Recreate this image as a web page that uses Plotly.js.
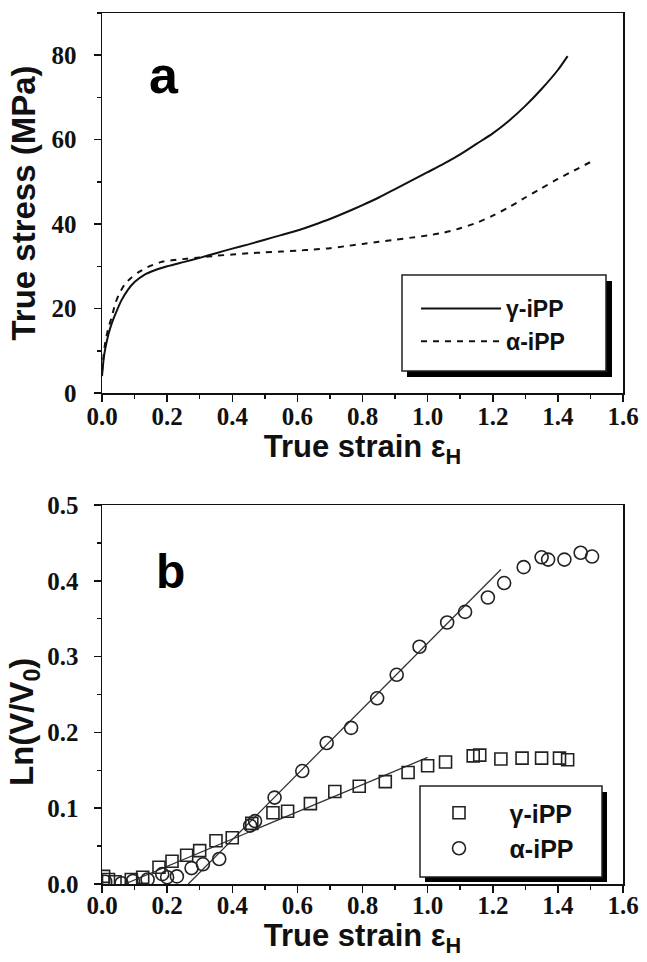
<!DOCTYPE html>
<html>
<head>
<meta charset="utf-8">
<script src="https://cdn.plot.ly/plotly-3.0.1.min.js"></script>
<style>html,body{margin:0;padding:0;background:#fff;}#chart{width:647px;height:962px;}</style>
</head>
<body>
<div id="chart"></div>
<script>
// ---------- Panel (a): true stress vs true strain ----------
const strainGammaA = [0, 0.005, 0.01, 0.02, 0.03, 0.04, 0.06, 0.08, 0.1, 0.13, 0.16, 0.2, 0.25, 0.3, 0.35, 0.4, 0.45, 0.5, 0.55, 0.6, 0.65, 0.7, 0.75, 0.8, 0.85, 0.9, 0.95, 1.0, 1.05, 1.1, 1.15, 1.2, 1.25, 1.3, 1.35, 1.4, 1.43];
const stressGamma  = [4, 8, 10.5, 14, 16.5, 18.5, 22, 24.5, 26.3, 28, 29, 30, 31, 32, 33.1, 34.2, 35.2, 36.3, 37.4, 38.5, 39.8, 41.2, 42.8, 44.5, 46.3, 48.3, 50.3, 52.3, 54.3, 56.5, 59, 61.5, 64.5, 68, 72, 76.5, 79.8];
const strainAlphaA = [0, 0.005, 0.01, 0.02, 0.03, 0.04, 0.05, 0.07, 0.09, 0.11, 0.14, 0.18, 0.22, 0.26, 0.3, 0.35, 0.4, 0.45, 0.5, 0.55, 0.6, 0.65, 0.7, 0.75, 0.8, 0.85, 0.9, 0.95, 1.0, 1.05, 1.1, 1.15, 1.2, 1.25, 1.3, 1.35, 1.4, 1.45, 1.5];
const stressAlpha  = [5, 9, 12, 15.5, 18, 21, 23, 25.8, 27.3, 28.5, 29.8, 31, 31.5, 31.8, 32.1, 32.5, 32.8, 33.1, 33.3, 33.5, 33.7, 34, 34.3, 34.8, 35.3, 35.8, 36.3, 36.8, 37.3, 38, 39, 40.3, 42, 44, 46.3, 48.5, 50.7, 52.7, 54.7];

// ---------- Panel (b): Ln(V/V0) vs true strain ----------
const strainGammaB = [0.005, 0.02, 0.04, 0.09, 0.125, 0.175, 0.215, 0.26, 0.30, 0.35, 0.40, 0.46, 0.525, 0.57, 0.64, 0.715, 0.79, 0.87, 0.94, 1.0, 1.055, 1.14, 1.16, 1.225, 1.29, 1.35, 1.405, 1.43];
const lnVGamma     = [0.010, 0.006, 0.003, 0.006, 0.009, 0.022, 0.030, 0.038, 0.044, 0.057, 0.061, 0.080, 0.094, 0.096, 0.106, 0.122, 0.129, 0.135, 0.147, 0.156, 0.161, 0.169, 0.170, 0.165, 0.166, 0.166, 0.166, 0.164];
const strainAlphaB = [0.01, 0.06, 0.095, 0.14, 0.185, 0.2, 0.23, 0.275, 0.31, 0.36, 0.455, 0.47, 0.53, 0.615, 0.69, 0.765, 0.845, 0.905, 0.975, 1.06, 1.115, 1.185, 1.235, 1.295, 1.35, 1.37, 1.42, 1.47, 1.505];
const lnVAlpha     = [0.003, 0.001, 0.004, 0.006, 0.013, 0.009, 0.010, 0.021, 0.026, 0.033, 0.077, 0.083, 0.114, 0.149, 0.186, 0.206, 0.245, 0.276, 0.313, 0.345, 0.359, 0.378, 0.397, 0.418, 0.431, 0.428, 0.428, 0.437, 0.432];
// linear fit lines (end points)
const fitGammaX = [0.07, 1.0];
const fitGammaY = [0.0, 0.167];
const fitAlphaX = [0.265, 1.225];
const fitAlphaY = [0.0, 0.415];

const seriesNames = ['γ-iPP', 'α-iPP'];
const xTickVals = [0, 0.2, 0.4, 0.6, 0.8, 1.0, 1.2, 1.4, 1.6];

// ---------- layout helpers (pixel -> paper) ----------
const W = 647, H = 962;
const M = {l: 102, r: 24, t: 13, b: 78};
const PW = W - M.l - M.r, PH = H - M.t - M.b;
const px = v => (v - M.l) / PW;
const py = v => (H - M.b - v) / PH;

const sans = 'Liberation Sans, Arial, sans-serif';
const serif = 'Liberation Serif, Times New Roman, serif';
const tickFont = {family: serif, size: 25, color: '#111', weight: 'bold'};
const titleFont = {family: sans, size: 31, color: '#111', weight: 'bold'};

const axisCommon = {
  showline: true, linecolor: '#111', linewidth: 1.5, mirror: true,
  showgrid: false, zeroline: false,
  ticks: 'outside', ticklen: 7, tickwidth: 1.5, tickcolor: '#111',
  tickfont: tickFont
};

const traces = [
  {x: strainGammaA, y: stressGamma, name: seriesNames[0], type: 'scatter', mode: 'lines',
   line: {color: '#111', width: 2, shape: 'spline', smoothing: 0.6}, xaxis: 'x', yaxis: 'y', legend: 'legend'},
  {x: strainAlphaA, y: stressAlpha, name: seriesNames[1], type: 'scatter', mode: 'lines',
   line: {color: '#111', width: 2, dash: '6px,6px', shape: 'spline', smoothing: 0.6}, xaxis: 'x', yaxis: 'y', legend: 'legend'},
  {x: fitGammaX, y: fitGammaY, type: 'scatter', mode: 'lines', showlegend: false,
   line: {color: '#333', width: 1.3}, xaxis: 'x2', yaxis: 'y2'},
  {x: fitAlphaX, y: fitAlphaY, type: 'scatter', mode: 'lines', showlegend: false,
   line: {color: '#333', width: 1.3}, xaxis: 'x2', yaxis: 'y2'},
  {x: strainGammaB, y: lnVGamma, name: seriesNames[0], type: 'scatter', mode: 'markers',
   marker: {symbol: 'square-open', size: 12, color: '#222', line: {width: 1.6, color: '#222'}},
   xaxis: 'x2', yaxis: 'y2', legend: 'legend2'},
  {x: strainAlphaB, y: lnVAlpha, name: seriesNames[1], type: 'scatter', mode: 'markers',
   marker: {symbol: 'circle-open', size: 13, color: '#222', line: {width: 1.6, color: '#222'}},
   xaxis: 'x2', yaxis: 'y2', legend: 'legend2'}
];

const xMinor = {dtick: 0.1, ticklen: 4, tickwidth: 1.5, tickcolor: '#111', ticks: 'outside'};

const layout = {
  width: W, height: H,
  margin: M,
  paper_bgcolor: '#fff', plot_bgcolor: '#fff',
  showlegend: true,
  xaxis: Object.assign({}, axisCommon, {
    domain: [0, 1], anchor: 'y', range: [0, 1.6], tickvals: xTickVals, tickformat: '.1f',
    ticklabelstandoff: -7, minor: xMinor,
    title: {text: 'True strain ε<sub>H</sub>', font: titleFont, standoff: 6}
  }),
  yaxis: Object.assign({}, axisCommon, {
    domain: [py(393), 1], anchor: 'x', range: [0, 90], tickvals: [0, 20, 40, 60, 80],
    ticklabelstandoff: 12,
    minor: {dtick: 10, ticklen: 4, tickwidth: 1.5, tickcolor: '#111', ticks: 'outside'},
    title: {text: 'True stress (MPa)', font: Object.assign({}, titleFont, {size: 33}), standoff: 6}
  }),
  xaxis2: Object.assign({}, axisCommon, {
    domain: [0, 1], anchor: 'y2', range: [0, 1.6], tickvals: xTickVals, tickformat: '.1f',
    ticklabelstandoff: -9, minor: xMinor,
    title: {text: 'True strain ε<sub>H</sub>', font: titleFont, standoff: 6}
  }),
  yaxis2: Object.assign({}, axisCommon, {
    domain: [0, py(505)], anchor: 'x2', range: [0, 0.5], dtick: 0.1, tickformat: '.1f',
    ticklabelstandoff: 10,
    minor: {dtick: 0.05, ticklen: 4, tickwidth: 1.5, tickcolor: '#111', ticks: 'outside'}
  }),
  legend: {
    x: px(416), xanchor: 'left', y: py(287), yanchor: 'top',
    bgcolor: 'rgba(0,0,0,0)', borderwidth: 0,
    font: {family: sans, size: 23, color: '#111', weight: 'bold'},
    itemwidth: 80, traceorder: 'normal'
  },
  legend2: {
    x: px(408.5), xanchor: 'left', y: py(790), yanchor: 'top',
    bgcolor: 'rgba(0,0,0,0)', borderwidth: 0,
    font: {family: sans, size: 25, color: '#111', weight: 'bold'},
    itemwidth: 91, traceorder: 'normal'
  },
  shapes: [
    {type: 'rect', xref: 'paper', yref: 'paper', layer: 'above',
     x0: px(407), x1: px(612), y0: py(377), y1: py(281), fillcolor: '#000', line: {width: 0}},
    {type: 'rect', xref: 'paper', yref: 'paper', layer: 'above',
     x0: px(402), x1: px(606), y0: py(371), y1: py(275), fillcolor: '#fff', line: {color: '#222', width: 1.5}},
    {type: 'rect', xref: 'paper', yref: 'paper', layer: 'above',
     x0: px(425), x1: px(607), y0: py(882), y1: py(792), fillcolor: '#000', line: {width: 0}},
    {type: 'rect', xref: 'paper', yref: 'paper', layer: 'above',
     x0: px(420), x1: px(602), y0: py(877), y1: py(786), fillcolor: '#fff', line: {color: '#222', width: 1.5}}
  ],
  annotations: [
    {text: 'a', xref: 'paper', yref: 'paper', x: px(164), y: py(75), xanchor: 'center', yanchor: 'middle',
     showarrow: false, font: {family: sans, size: 52, color: '#000', weight: 'bold'}},
    {text: 'b', xref: 'paper', yref: 'paper', x: px(170), y: py(571), xanchor: 'center', yanchor: 'middle',
     showarrow: false, font: {family: sans, size: 48, color: '#000', weight: 'bold'}},
    {text: 'Ln(V/V<sub>0</sub>)', xref: 'paper', yref: 'paper', x: px(24), y: py(722),
     xanchor: 'center', yanchor: 'middle', textangle: -90, showarrow: false,
     font: Object.assign({}, titleFont, {size: 33})}
  ]
};

Plotly.newPlot('chart', traces, layout, {displayModeBar: false, staticPlot: true});
</script>
</body>
</html>
